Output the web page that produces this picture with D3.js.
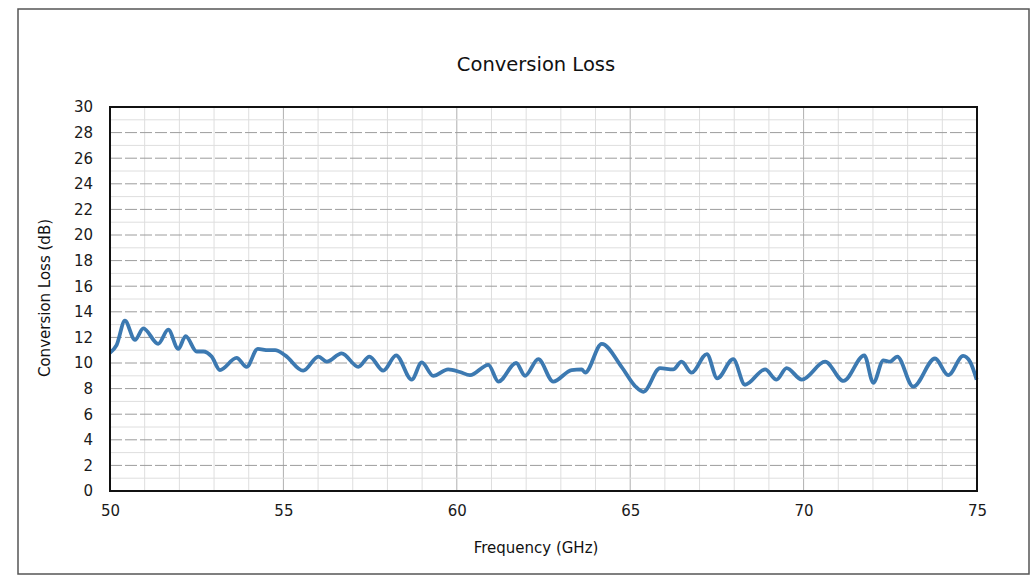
<!DOCTYPE html>
<html>
<head>
<meta charset="utf-8">
<script src="https://cdn.jsdelivr.net/npm/d3@7"></script>
<style>
  body { margin: 0; background: #fff; }
  svg { display: block; font-family: "DejaVu Sans", Verdana, sans-serif; }
</style>
</head>
<body>
<svg id="chart" width="1032" height="576"></svg>
<script>
// frequency (GHz) and conversion loss (dB)
var freq = [50.00, 50.19, 50.43, 50.72, 50.96, 51.39, 51.68, 51.97, 52.18, 52.50,
  52.69, 52.93, 53.17, 53.65, 53.94, 54.26, 54.56, 54.76, 55.05, 55.57,
  56.01, 56.25, 56.68, 57.16, 57.48, 57.88, 58.25, 58.70, 58.99, 59.32,
  59.75, 60.09, 60.38, 60.91, 61.20, 61.71, 61.97, 62.35, 62.78, 63.31,
  63.60, 63.70, 64.18, 64.75, 65.14, 65.38, 65.86, 66.24, 66.48, 66.77,
  67.21, 67.51, 67.97, 68.31, 68.89, 69.22, 69.51, 69.95, 70.62, 71.15,
  71.75, 72.01, 72.30, 72.49, 72.70, 73.16, 73.79, 74.17, 74.60, 74.80, 74.99];
var loss = [10.8, 11.4, 13.3, 11.8, 12.7, 11.5, 12.6, 11.1, 12.1, 10.9,
  10.9, 10.5, 9.45, 10.4, 9.7, 11.1, 11.0, 11.0, 10.6, 9.4,
  10.5, 10.1, 10.75, 9.7, 10.5, 9.4, 10.6, 8.7, 10.05, 9.0,
  9.5, 9.3, 9.05, 9.85, 8.55, 10.0, 9.0, 10.3, 8.55, 9.45,
  9.5, 9.25, 11.5, 9.7, 8.2, 7.75, 9.6, 9.5, 10.1, 9.25,
  10.7, 8.8, 10.3, 8.3, 9.5, 8.7, 9.6, 8.7, 10.1, 8.6,
  10.6, 8.45, 10.2, 10.1, 10.5, 8.15, 10.35, 9.05, 10.55, 10.1, 8.7];

var xTicks = [50, 55, 60, 65, 70, 75];
var yTicks = [0, 2, 4, 6, 8, 10, 12, 14, 16, 18, 20, 22, 24, 26, 28, 30];

var svg = d3.select("#chart");

var pLeft = 110, pRight = 977, pTop = 107, pBottom = 491;

var x = d3.scaleLinear().domain([50, 75]).range([pLeft, pRight]);
var y = d3.scaleLinear().domain([0, 30]).range([pBottom, pTop]);

// outer frame of the scanned page
svg.append("rect")
  .attr("x", 18).attr("y", 9).attr("width", 1011).attr("height", 565)
  .attr("fill", "none").attr("stroke", "#555").attr("stroke-width", 1.5);

// grid
var g = svg.append("g").attr("class", "grid");
g.selectAll("line.v").data(d3.range(51, 75))
  .enter().append("line").attr("class", "v")
  .attr("x1", function(d) { return x(d); }).attr("x2", function(d) { return x(d); })
  .attr("y1", pTop).attr("y2", pBottom)
  .attr("stroke", function(d) { return d % 5 == 0 ? "#b0b0b0" : "#dedede"; })
  .attr("stroke-width", 1);
g.selectAll("line.h").data(d3.range(1, 30))
  .enter().append("line").attr("class", "h")
  .attr("x1", pLeft).attr("x2", pRight)
  .attr("y1", function(d) { return y(d); }).attr("y2", function(d) { return y(d); })
  .attr("stroke", function(d) { return d % 2 == 0 ? "#9c9c9c" : "#dedede"; })
  .attr("stroke-dasharray", function(d) { return d % 2 == 0 ? "12,3" : null; })
  .attr("stroke-width", 1);

// axes (labels only, frame drawn separately)
var xAxis = svg.append("g")
  .attr("transform", "translate(0," + pBottom + ")")
  .call(d3.axisBottom(x).tickValues(xTicks).tickSize(0).tickPadding(14));
var yAxis = svg.append("g")
  .attr("transform", "translate(" + pLeft + ",0)")
  .call(d3.axisLeft(y).tickValues(yTicks).tickSize(0).tickPadding(17));
[xAxis, yAxis].forEach(function(a) {
  a.select(".domain").remove();
  a.selectAll("text").attr("font-size", 15).attr("fill", "#1a1a1a")
    .attr("font-family", "'DejaVu Sans', Verdana, sans-serif");
});

// the curve
var line = d3.line()
  .x(function(d, i) { return x(freq[i]); })
  .y(function(d) { return y(d); })
  .curve(d3.curveMonotoneX);

svg.append("path").datum(loss)
  .attr("d", line)
  .attr("fill", "none")
  .attr("stroke", "#3c79b1")
  .attr("stroke-width", 3.8)
  .attr("stroke-linejoin", "round");

// plot frame
svg.append("rect")
  .attr("x", pLeft).attr("y", pTop).attr("width", pRight - pLeft).attr("height", pBottom - pTop)
  .attr("fill", "none").attr("stroke", "#111").attr("stroke-width", 2);

// titles
svg.append("text").attr("x", 536).attr("y", 71)
  .attr("text-anchor", "middle").attr("font-size", 19.5).attr("fill", "#111")
  .text("Conversion Loss");
svg.append("text").attr("x", 536).attr("y", 553)
  .attr("text-anchor", "middle").attr("font-size", 15).attr("fill", "#111")
  .text("Frequency (GHz)");
svg.append("text")
  .attr("transform", "translate(50,298) rotate(-90)")
  .attr("text-anchor", "middle").attr("font-size", 15).attr("fill", "#111")
  .text("Conversion Loss (dB)");
</script>
</body>
</html>
